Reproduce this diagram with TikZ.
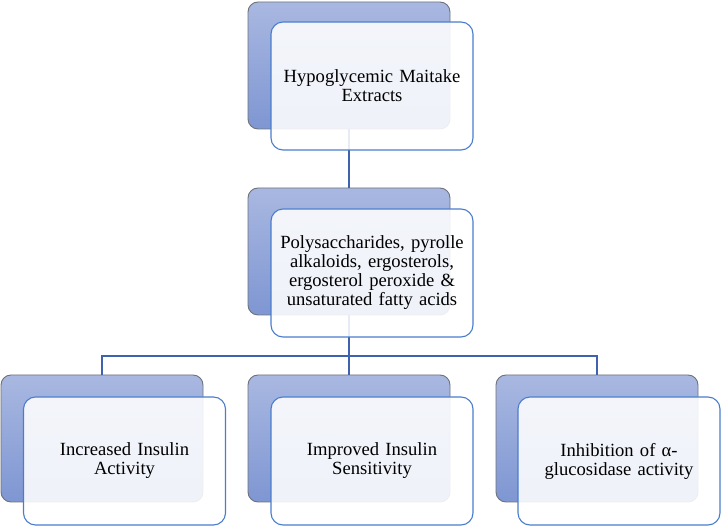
\documentclass[tikz,border=0pt]{standalone}
\usepackage{fontspec}
\setmainfont{Liberation Serif}
\definecolor{backtop}{HTML}{A9B8E1}
\definecolor{backbot}{HTML}{7E96D2}
\definecolor{backline}{HTML}{6E7278}
\definecolor{frontline}{HTML}{4A7DCE}
\definecolor{conn}{HTML}{3F62AE}
\begin{document}
\begin{tikzpicture}[x=1pt,y=-1pt,
  backbox/.style={draw=backline,line width=0.9pt,rounded corners=10pt,
    top color=backtop,bottom color=backbot,minimum width=202pt,minimum height=127pt,
    inner sep=0pt,outer sep=0pt},
  frontbox/.style={draw=frontline,line width=1.1pt,rounded corners=12pt,
    fill=white,fill opacity=0.88,text opacity=1,minimum width=202pt,minimum height=128pt,
    inner sep=0pt,outer sep=0pt,align=center,text width=195pt,
    font=\fontsize{18.6pt}{19pt}\selectfont,text=black},
  link/.style={draw=conn,line width=2pt}]
\useasboundingbox (0,0) rectangle (721,526);
% back boxes
\node[backbox] (tb) at (349,65.5) {};
\node[backbox] (mb) at (349,251.5) {};
\node[backbox] (lb) at (102,438.5) {};
\node[backbox] (cb) at (349,438.5) {};
\node[backbox] (rb) at (597,438.5) {};
% connectors
\coordinate (bar) at (349,356);
\draw[link] (tb.south) -- (mb.north);
\draw[link] (mb.south) -- (cb.north);
\draw[link] (lb.north) -- (lb.north |- bar) -- (rb.north |- bar) -- (rb.north);
% front boxes
\node[frontbox] (tf) at (372,86) {Hypoglycemic Maitake\\Extracts};
\node[frontbox] (mf) at (372,273) {Polysaccharides, pyrolle\\alkaloids, ergosterols,\\ergosterol peroxide \&\\unsaturated fatty acids};
\node[frontbox] (lf) at (124.5,461) {Increased Insulin\\Activity};
\node[frontbox] (cf) at (372,461) {Improved Insulin\\Sensitivity};
\node[frontbox] (rf) at (619,461) {Inhibition of α-\\glucosidase activity};
\end{tikzpicture}
\end{document}
